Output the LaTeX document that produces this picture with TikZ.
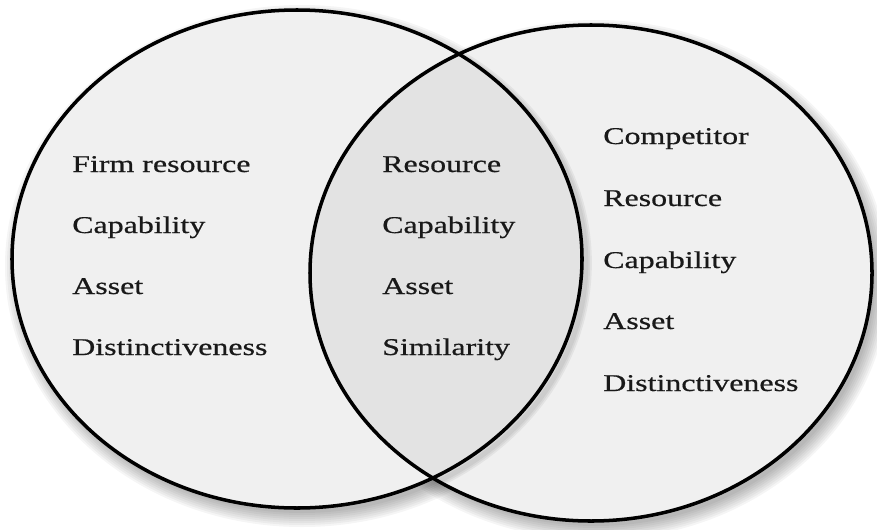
\documentclass[tikz,border=0pt]{standalone}
\usepackage{fontspec}
\setmainfont{Liberation Serif}[FakeStretch=1.33, FakeBold=0.6]
\usetikzlibrary{positioning}

\begin{document}
\begin{tikzpicture}[
			x=0.03cm, y=-0.03cm,
			item/.style={anchor=base west, inner sep=0pt, font=\fontsize{20.5}{24}\selectfont, text=black!90},
			ring/.style={line width=3pt, black},
			ringfill/.style={fill=gray!12},
			overlap/.style={fill=gray!22}
		]
		\useasboundingbox (0,0) rectangle (877,529);

		% Ombre morbide
		\foreach \d in {12,10,...,-2} {
			\fill[black, opacity=0.04] (302,266) ellipse ({285+\d} and {249+\d});
			\fill[black, opacity=0.04] (596,280) ellipse ({281+\d} and {248+\d});
		}

		% Riempimenti
		\fill[ringfill] (297,259) ellipse (285 and 249);
		\fill[ringfill] (591,273) ellipse (281 and 248);
		\begin{scope}
			\clip (591,273) ellipse (281 and 248);
			\foreach \w in {10,7,4} \draw[black, opacity=0.05, line width=\w pt] (301,263) ellipse (285 and 249);
		\end{scope}
		\begin{scope}
			\clip (297,259) ellipse (285 and 249);
			\fill[overlap] (591,273) ellipse (281 and 248);
		\end{scope}

		% Contorni
		\draw[ring] (297,259) ellipse (285 and 249);
		\draw[ring] (591,273) ellipse (281 and 248);

		% Impresa
		\node[item] (firm) at (72,172) {Firm resource};
		\node[item] (firm_cap) at (72,233) {Capability};
		\node[item] (firm_asset) at (72,294) {Asset};
		\node[item] (firm_dist) at (72,355) {Distinctiveness};

		% Intersezione
		\node[item] (common_res) at (382,172) {Resource};
		\node[item] (common_cap) at (382,233) {Capability};
		\node[item] (common_asset) at (382,294) {Asset};
		\node[item] (common_sim) at (382,355) {Similarity};

		% Concorrente
		\node[item] (comp) at (603,144) {Competitor};
		\node[item] (comp_res) at (603,206) {Resource};
		\node[item] (comp_cap) at (603,268) {Capability};
		\node[item] (comp_asset) at (603,329) {Asset};
		\node[item] (comp_dist) at (603,391) {Distinctiveness};

	\end{tikzpicture}
\end{document}
